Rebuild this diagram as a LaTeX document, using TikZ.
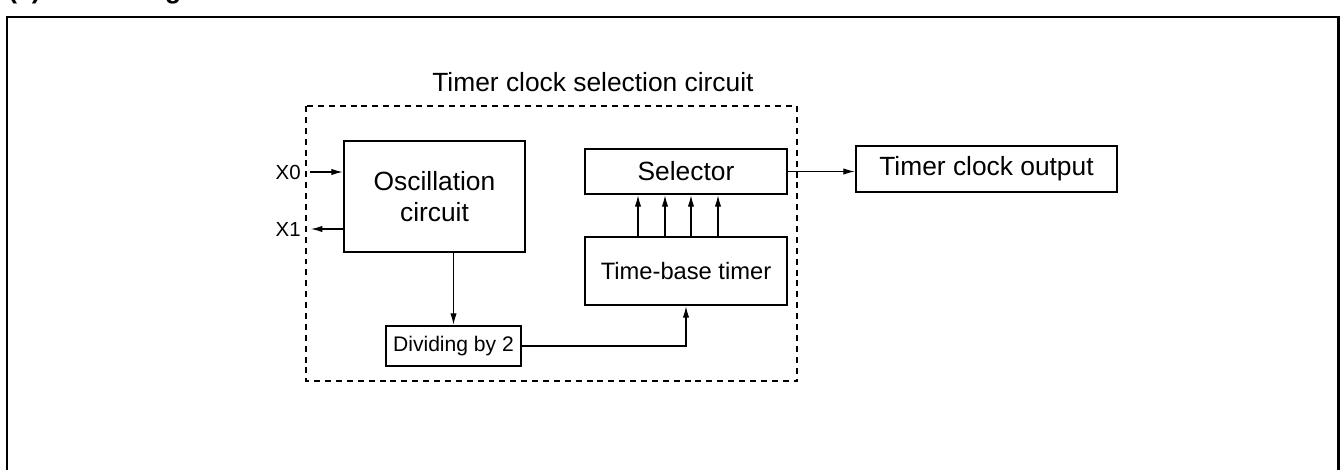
\documentclass[tikz,border=0pt]{standalone}
\usepackage{fontspec}
\setmainfont{Liberation Sans}
\usepackage{tikz}
\usetikzlibrary{arrows.meta,shapes}
\tikzstyle{block}=[draw,line width=1.5pt,inner sep=0pt,align=center,font=\fontsize{15pt}{17.6pt}\selectfont]
\tikzstyle{arrow} = [draw,line width=0.6pt,-{Latex[length=6.5pt,width=3.6pt]}]
\tikzstyle{label} = [inner sep=0pt,font=\fontsize{11.6pt}{13pt}\selectfont]

\begin{document}
\begin{tikzpicture}[x=0.02cm,y=-0.02cm]
    % Page region and outer frame
    \useasboundingbox (0,0) rectangle (1340,470);
    \clip (0,0) rectangle (1340,470);
    \node[anchor=base west,inner sep=0pt,font=\fontsize{15pt}{18pt}\selectfont\bfseries] (caption) at (8,-2) {(2) Block diagram};
    \draw[line width=1.7pt] (7,490) -- (7,17) -- (1338,17) -- (1338,490);
    % The selection circuit region
    \draw[line width=0.6pt,dash pattern=on 3.4pt off 2.8pt] (306,106) rectangle (797,381);
    \node[anchor=west,inner sep=0pt,font=\fontsize{15pt}{18pt}\selectfont] (title) at (432,82) {Timer clock selection circuit};
    % First we draw the blocks
    \node[block,minimum width=181*0.02cm,minimum height=111*0.02cm] (osc) at (434.5,196.5) {Oscillation\\circuit};
    \node[block,minimum width=202*0.02cm,minimum height=45*0.02cm] (sel) at (686,171.5) {Selector};
    \node[block,minimum width=202*0.02cm,minimum height=68*0.02cm,font=\fontsize{13.5pt}{16pt}\selectfont] (tbt) at (686,271) {Time-base timer};
    \node[block,minimum width=261*0.02cm,minimum height=46*0.02cm] (out) at (986.5,169) {Timer clock output};
    \node[block,minimum width=135*0.02cm,minimum height=40*0.02cm,font=\fontsize{12pt}{14pt}\selectfont] (div) at (453.5,346) {Dividing by 2};
    % Pins
    \node[label,anchor=east] (x0) at (301,172) {X0};
    \node[label,anchor=east] (x1) at (301,229) {X1};
    \coordinate (x0end) at (310,172);
    \coordinate (x1end) at (311,229);
    % Connect blocks with arrows
    \path[arrow] (x0end) -- (x0end -| osc.west);
    \path[arrow] (x1end -| osc.west) -- (x1end);
    \path[arrow] (osc.south -| div.north) -- (div.north);
    \path[arrow] (div.east) -| (tbt.south);
    \foreach \x in {638,665,691,718}
        \path[arrow] (\x,0 |- tbt.north) -- (\x,0 |- sel.south);
    \path[arrow] (sel.east) -- (sel.east -| out.west);
\end{tikzpicture}
\end{document}
